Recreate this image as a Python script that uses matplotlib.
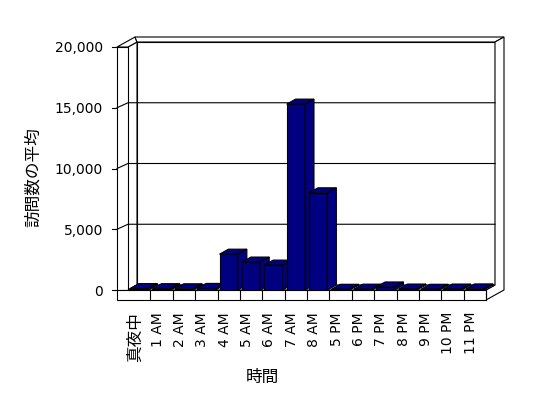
import matplotlib.pyplot as plt
from matplotlib.patches import Polygon
from matplotlib.transforms import ScaledTranslation

plt.rcParams['font.family'] = ['DejaVu Sans', 'Noto Sans CJK JP']

hours = ['真夜中', '1 AM', '2 AM', '3 AM', '4 AM', '5 AM', '6 AM', '7 AM', '8 AM',
         '5 PM', '6 PM', '7 PM', '8 PM', '9 PM', '10 PM', '11 PM']
visits = [120, 110, 100, 130, 2950, 2300, 2050, 15300, 8000,
          60, 70, 250, 80, 60, 80, 90]
y_ticks = [0, 5000, 10000, 15000, 20000]
y_labels = ['0', '5,000', '10,000', '15,000', '20,000']

W, H = 548, 398
fig = plt.figure(figsize=(W / 100, H / 100), dpi=100)
# front plane of the box (pixels, from top-left)
L1, R, T, B = 128, 486, 47, 290
ax = fig.add_axes([L1 / W, 1 - B / H, (R - L1) / W, (B - T) / H])
ax.set_xlim(-0.5, len(hours) - 0.5)
ax.set_ylim(0, 20000)
ax.patch.set_visible(False)
for s in ax.spines.values():
    s.set_visible(False)

ppx = (R - L1) / len(hours)     # pixels per category
ppy = (B - T) / 20000           # pixels per visit
ddx, ddy = 9 / ppx, 5 / ppy     # depth step
x0 = -0.5 - 11 / ppx            # outer left edge of the side wall
x1, x2 = -0.5, len(hours) - 0.5
ytop, yb, yf = 20000, 0, -10 / ppy
lw = 0.8


def poly(pts, fc, z):
    ax.add_patch(Polygon(pts, closed=True, fc=fc, ec='black', lw=lw,
                         clip_on=False, zorder=z))


# walls and floor
poly([(x1 + ddx, yb + ddy), (x2 + ddx, yb + ddy), (x2 + ddx, ytop + ddy), (x1 + ddx, ytop + ddy)], 'white', 1)
poly([(x1, yb), (x1 + ddx, yb + ddy), (x1 + ddx, ytop + ddy), (x1, ytop)], 'white', 1)
poly([(x0, yb), (x1, yb), (x1, ytop), (x0, ytop)], 'white', 1)
poly([(x0, ytop), (x1, ytop), (x1 + ddx, ytop + ddy), (x0 + 2 * ddx, ytop + 2 * ddy)], 'white', 1)
poly([(x1 + ddx, ytop + ddy), (x2 + ddx, ytop + ddy), (x2 + 2 * ddx, ytop + 2 * ddy),
      (x0 + 2 * ddx, ytop + 2 * ddy)], 'white', 1)
poly([(x2, yb), (x2, yf), (x2 + 2 * ddx, yf + 2 * ddy), (x2 + 2 * ddx, ytop + 2 * ddy),
      (x2 + ddx, ytop + ddy), (x2 + ddx, yb + ddy)], 'white', 1)
poly([(x1, yb), (x2, yb), (x2 + ddx, yb + ddy), (x1 + ddx, yb + ddy)], 'white', 1.5)
poly([(x0, yf), (x2, yf), (x2, yb), (x0, yb)], 'white', 1.5)

# gridlines on the back wall
for v in y_ticks[1:-1]:
    ax.plot([x0, x1, x2 + ddx], [v, v + ddy, v + ddy], color='black', lw=lw,
            clip_on=False, zorder=2)
for v in y_ticks:
    ax.plot([x0 - 5 / ppx, x0], [v, v], color='black', lw=lw, clip_on=False, zorder=2)
for i in range(len(hours)):
    ax.plot([i + 0.5, i + 0.5], [yf, yb], color='black', lw=lw, clip_on=False, zorder=2)

# bars
navy = '#000080'
bw = 0.82
for i, v in enumerate(visits):
    z = 3 + i * 0.01
    ax.bar(i, v, width=bw, color=navy, edgecolor='black', lw=lw, zorder=z)
    a, b = i - bw / 2, i + bw / 2
    poly([(a, v), (b, v), (b + ddx, v + ddy), (a + ddx, v + ddy)], navy, z)
    poly([(b, 0), (b, v), (b + ddx, v + ddy), (b + ddx, ddy)], navy, z)

ax.set_yticks(y_ticks, y_labels)
ax.tick_params(axis='y', length=0, pad=(L1 - 103) * 0.72, labelsize=10)
ax.set_xticks(range(len(hours)), hours, rotation=90)
ax.tick_params(axis='x', length=0, pad=(312 - B) * 0.72, labelsize=10)
for lab in ax.get_xticklabels():
    lab.set_transform(lab.get_transform() + ScaledTranslation(-4 / 100, 0, fig.dpi_scale_trans))
    if lab.get_text() == '真夜中':
        lab.set_fontsize(12)

fig.text(33 / W, 1 - 177 / H, '訪問数の平均', rotation=90, ha='center', va='center',
         fontsize=12, family=['Noto Sans CJK JP'])
fig.text(262 / W, 1 - 377 / H, '時間', ha='center', va='center',
         fontsize=12, family=['Noto Sans CJK JP'])

fig.savefig('out.png', dpi=100)
